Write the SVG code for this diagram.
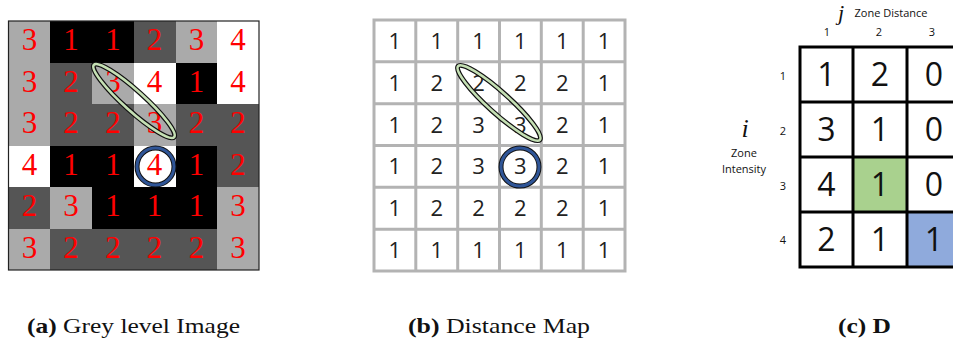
<svg xmlns="http://www.w3.org/2000/svg" width="953" height="344" viewBox="0 0 953 344">
<style>
.g1{fill:#000}.g2{fill:#555}.g3{fill:#aaa}.g4{fill:#fff}
#grey-cells rect{shape-rendering:crispEdges}
.rd{font-family:"Liberation Serif",serif;font-size:31px;fill:#ff0000;text-anchor:middle}
.dm{font-family:"Open Sans",sans-serif;font-size:22px;fill:#222;text-anchor:middle}
.tv{font-family:"Open Sans",sans-serif;font-size:32px;fill:#111;text-anchor:middle}
.sm{font-family:"Open Sans",sans-serif;font-size:11px;fill:#111;text-anchor:middle}
.it{font-family:"Liberation Serif",serif;font-style:italic;fill:#111;text-anchor:middle}
.cap{font-family:"Liberation Serif",serif;font-size:21px;fill:#111}
.ell-o{fill:none;stroke:#111;stroke-width:5}
.ell-i{fill:none;stroke:#c5e0b4;stroke-width:2.6}
.cir-o{fill:none;stroke:#111;stroke-width:5}
.cir-i{fill:none;stroke:#2f5597;stroke-width:3}
.ml{stroke:#b3b3b3;stroke-width:3;fill:none}
.tl{stroke:#000;stroke-width:3;fill:none}
</style>
<rect width="953" height="344" fill="#fff"/>

<g id="grey-level-image">
  <g id="grey-cells">
    <rect class="g3" x="8.5" y="21" width="41.75" height="41.5"/>
    <rect class="g1" x="50.25" y="21" width="41.75" height="41.5"/>
    <rect class="g1" x="92" y="21" width="41.75" height="41.5"/>
    <rect class="g2" x="133.75" y="21" width="41.75" height="41.5"/>
    <rect class="g3" x="175.5" y="21" width="41.75" height="41.5"/>
    <rect class="g4" x="217.25" y="21" width="41.75" height="41.5"/>
    <rect class="g3" x="8.5" y="62.5" width="41.75" height="41.5"/>
    <rect class="g2" x="50.25" y="62.5" width="41.75" height="41.5"/>
    <rect class="g3" x="92" y="62.5" width="41.75" height="41.5"/>
    <rect class="g4" x="133.75" y="62.5" width="41.75" height="41.5"/>
    <rect class="g1" x="175.5" y="62.5" width="41.75" height="41.5"/>
    <rect class="g4" x="217.25" y="62.5" width="41.75" height="41.5"/>
    <rect class="g3" x="8.5" y="104" width="41.75" height="41.5"/>
    <rect class="g2" x="50.25" y="104" width="41.75" height="41.5"/>
    <rect class="g2" x="92" y="104" width="41.75" height="41.5"/>
    <rect class="g3" x="133.75" y="104" width="41.75" height="41.5"/>
    <rect class="g2" x="175.5" y="104" width="41.75" height="41.5"/>
    <rect class="g2" x="217.25" y="104" width="41.75" height="41.5"/>
    <rect class="g4" x="8.5" y="145.5" width="41.75" height="41.5"/>
    <rect class="g1" x="50.25" y="145.5" width="41.75" height="41.5"/>
    <rect class="g1" x="92" y="145.5" width="41.75" height="41.5"/>
    <rect class="g4" x="133.75" y="145.5" width="41.75" height="41.5"/>
    <rect class="g1" x="175.5" y="145.5" width="41.75" height="41.5"/>
    <rect class="g2" x="217.25" y="145.5" width="41.75" height="41.5"/>
    <rect class="g2" x="8.5" y="187" width="41.75" height="41.5"/>
    <rect class="g3" x="50.25" y="187" width="41.75" height="41.5"/>
    <rect class="g1" x="92" y="187" width="41.75" height="41.5"/>
    <rect class="g1" x="133.75" y="187" width="41.75" height="41.5"/>
    <rect class="g1" x="175.5" y="187" width="41.75" height="41.5"/>
    <rect class="g3" x="217.25" y="187" width="41.75" height="41.5"/>
    <rect class="g3" x="8.5" y="228.5" width="41.75" height="41.5"/>
    <rect class="g2" x="50.25" y="228.5" width="41.75" height="41.5"/>
    <rect class="g2" x="92" y="228.5" width="41.75" height="41.5"/>
    <rect class="g2" x="133.75" y="228.5" width="41.75" height="41.5"/>
    <rect class="g2" x="175.5" y="228.5" width="41.75" height="41.5"/>
    <rect class="g3" x="217.25" y="228.5" width="41.75" height="41.5"/>
  </g>
  <rect x="8.5" y="21" width="250.5" height="249" fill="none" stroke="#222" stroke-width="1.2"/>
  <g id="grey-values">
    <text class="rd" x="29.4" y="50.3">3</text><text class="rd" x="71.1" y="50.3">1</text><text class="rd" x="112.9" y="50.3">1</text><text class="rd" x="154.6" y="50.3">2</text><text class="rd" x="196.4" y="50.3">3</text><text class="rd" x="238.1" y="50.3">4</text>
    <text class="rd" x="29.4" y="91.8">3</text><text class="rd" x="71.1" y="91.8">2</text><text class="rd" x="112.9" y="91.8">3</text><text class="rd" x="154.6" y="91.8">4</text><text class="rd" x="196.4" y="91.8">1</text><text class="rd" x="238.1" y="91.8">4</text>
    <text class="rd" x="29.4" y="133.3">3</text><text class="rd" x="71.1" y="133.3">2</text><text class="rd" x="112.9" y="133.3">2</text><text class="rd" x="154.6" y="133.3">3</text><text class="rd" x="196.4" y="133.3">2</text><text class="rd" x="238.1" y="133.3">2</text>
    <text class="rd" x="29.4" y="174.8">4</text><text class="rd" x="71.1" y="174.8">1</text><text class="rd" x="112.9" y="174.8">1</text><text class="rd" x="154.6" y="174.8">4</text><text class="rd" x="196.4" y="174.8">1</text><text class="rd" x="238.1" y="174.8">2</text>
    <text class="rd" x="29.4" y="216.3">2</text><text class="rd" x="71.1" y="216.3">3</text><text class="rd" x="112.9" y="216.3">1</text><text class="rd" x="154.6" y="216.3">1</text><text class="rd" x="196.4" y="216.3">1</text><text class="rd" x="238.1" y="216.3">3</text>
    <text class="rd" x="29.4" y="257.8">3</text><text class="rd" x="71.1" y="257.8">2</text><text class="rd" x="112.9" y="257.8">2</text><text class="rd" x="154.6" y="257.8">2</text><text class="rd" x="196.4" y="257.8">2</text><text class="rd" x="238.1" y="257.8">3</text>
  </g>
  <g id="grey-zone-ellipse">
    <ellipse class="ell-o" cx="134" cy="101" rx="54" ry="10" transform="rotate(42 134 101)"/>
    <ellipse class="ell-i" cx="134" cy="101" rx="54" ry="10" transform="rotate(42 134 101)"/>
  </g>
  <g id="grey-zone-circle">
    <circle class="cir-o" cx="155.5" cy="166.5" r="18.5"/>
    <circle class="cir-i" cx="155.5" cy="166.5" r="18.5"/>
  </g>
</g>

<g id="distance-map">
  <g id="distance-grid">
    <rect class="ml" x="374" y="20" width="251" height="251"/>
    <path class="ml" d="M415.8 20V271M457.7 20V271M499.5 20V271M541.3 20V271M583.2 20V271M374 61.8H625M374 103.7H625M374 145.5H625M374 187.3H625M374 229.2H625"/>
  </g>
  <g id="distance-values">
    <text class="dm" x="394.9" y="49">1</text><text class="dm" x="436.7" y="49">1</text><text class="dm" x="478.6" y="49">1</text><text class="dm" x="520.4" y="49">1</text><text class="dm" x="562.2" y="49">1</text><text class="dm" x="604.1" y="49">1</text>
    <text class="dm" x="394.9" y="90.8">1</text><text class="dm" x="436.7" y="90.8">2</text><text class="dm" x="478.6" y="90.8">2</text><text class="dm" x="520.4" y="90.8">2</text><text class="dm" x="562.2" y="90.8">2</text><text class="dm" x="604.1" y="90.8">1</text>
    <text class="dm" x="394.9" y="132.6">1</text><text class="dm" x="436.7" y="132.6">2</text><text class="dm" x="478.6" y="132.6">3</text><text class="dm" x="520.4" y="132.6">3</text><text class="dm" x="562.2" y="132.6">2</text><text class="dm" x="604.1" y="132.6">1</text>
    <text class="dm" x="394.9" y="174.4">1</text><text class="dm" x="436.7" y="174.4">2</text><text class="dm" x="478.6" y="174.4">3</text><text class="dm" x="520.4" y="174.4">3</text><text class="dm" x="562.2" y="174.4">2</text><text class="dm" x="604.1" y="174.4">1</text>
    <text class="dm" x="394.9" y="216.3">1</text><text class="dm" x="436.7" y="216.3">2</text><text class="dm" x="478.6" y="216.3">2</text><text class="dm" x="520.4" y="216.3">2</text><text class="dm" x="562.2" y="216.3">2</text><text class="dm" x="604.1" y="216.3">1</text>
    <text class="dm" x="394.9" y="258.1">1</text><text class="dm" x="436.7" y="258.1">1</text><text class="dm" x="478.6" y="258.1">1</text><text class="dm" x="520.4" y="258.1">1</text><text class="dm" x="562.2" y="258.1">1</text><text class="dm" x="604.1" y="258.1">1</text>
  </g>
  <g id="distance-zone-ellipse">
    <ellipse class="ell-o" cx="499" cy="103" rx="55" ry="10.5" transform="rotate(42 499 103)"/>
    <ellipse class="ell-i" cx="499" cy="103" rx="55" ry="10.5" transform="rotate(42 499 103)"/>
  </g>
  <g id="distance-zone-circle">
    <circle class="cir-o" cx="520" cy="167" r="19"/>
    <circle class="cir-i" cx="520" cy="167" r="19"/>
  </g>
</g>

<g id="gldzm-matrix">
  <rect x="853" y="157" width="54" height="55" fill="#a9d18e"/>
  <rect x="907" y="212" width="54" height="55" fill="#8faadc"/>
  <path class="tl" d="M800 47H962M800 102H962M800 157H962M800 212H962M800 267H962M800 45.5V268.5M853 45.5V268.5M907 45.5V268.5"/>
  <g id="matrix-values">
    <text class="tv" x="826.5" y="86">1</text><text class="tv" x="880" y="86">2</text><text class="tv" x="934" y="86">0</text>
    <text class="tv" x="826.5" y="141">3</text><text class="tv" x="880" y="141">1</text><text class="tv" x="934" y="141">0</text>
    <text class="tv" x="826.5" y="196">4</text><text class="tv" x="880" y="196">1</text><text class="tv" x="934" y="196">0</text>
    <text class="tv" x="826.5" y="251">2</text><text class="tv" x="880" y="251">1</text><text class="tv" x="934" y="251">1</text>
  </g>
  <g id="column-labels">
    <text class="it" x="841" y="20" font-size="22">j</text>
    <text class="sm" x="891" y="17">Zone Distance</text>
    <text class="sm" x="827" y="36">1</text>
    <text class="sm" x="879" y="36">2</text>
    <text class="sm" x="932" y="36">3</text>
  </g>
  <g id="row-labels">
    <text class="it" x="745" y="137" font-size="26">i</text>
    <text class="sm" x="744" y="157">Zone</text>
    <text class="sm" x="744" y="172.5">Intensity</text>
    <text class="sm" x="783" y="80">1</text>
    <text class="sm" x="783" y="135">2</text>
    <text class="sm" x="783" y="190">3</text>
    <text class="sm" x="783" y="244">4</text>
  </g>
</g>

<g id="captions">
  <text class="cap" x="27" y="333" textLength="213" lengthAdjust="spacingAndGlyphs"><tspan font-weight="bold">(a)</tspan> Grey level Image</text>
  <text class="cap" x="408" y="333" textLength="182" lengthAdjust="spacingAndGlyphs"><tspan font-weight="bold">(b)</tspan> Distance Map</text>
  <text class="cap" x="838" y="333" textLength="53" lengthAdjust="spacingAndGlyphs"><tspan font-weight="bold">(c) D</tspan></text>
</g>
</svg>
